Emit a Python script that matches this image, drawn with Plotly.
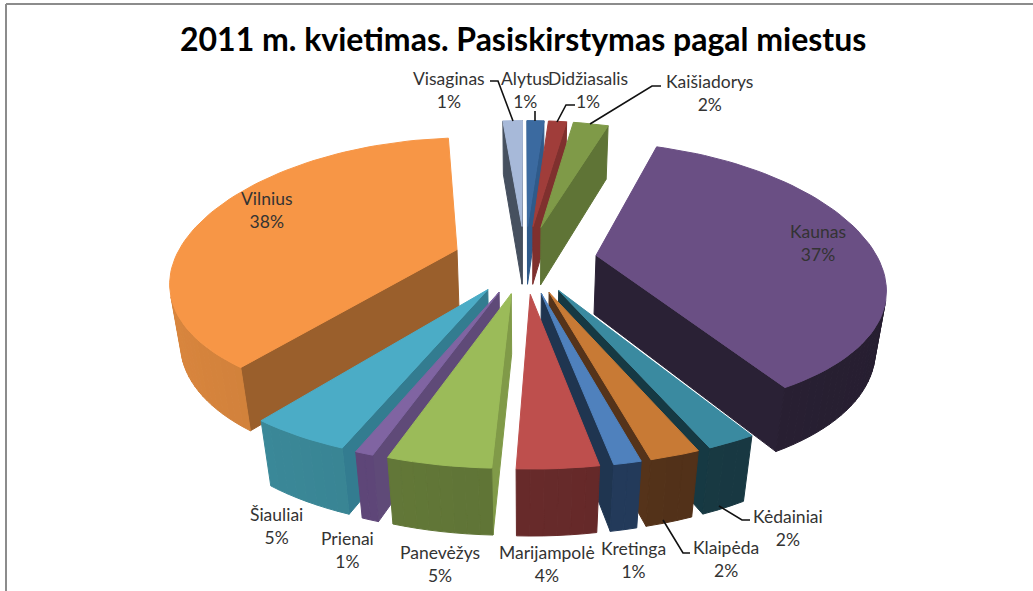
import math
import plotly.graph_objects as go

CITIES = ["Alytus", "Didžiasalis", "Kaišiadorys", "Kaunas", "Kėdainiai", "Klaipėda", "Kretinga",
          "Marijampolė", "Panevėžys", "Prienai", "Šiauliai", "Vilnius", "Visaginas"]
SHARES = [1.2, 1.3, 2.5, 36.5, 2.2, 2.2, 1.2, 3.5, 4.5, 0.8, 4.5, 38.1, 1.4]
PERCENT_LABELS = ["1%", "1%", "2%", "37%", "2%", "2%", "1%", "4%", "5%", "1%", "5%", "38%", "1%"]

TOP_COLORS = ["#3B6AA0", "#A03D3A", "#7F9A48", "#6A4F84", "#3A8AA0", "#C87A35", "#4F81BD",
              "#BE4F4D", "#9BBB59", "#8064A2", "#4BACC6", "#F79646", "#A7B9D9"]
OUTER_COLORS = ["#2C5580", "#7A2F2D", "#5F7436", "#2A2135", "#193B45", "#55331A", "#243B5C",
                "#672A2A", "#5F7436", "#5B4474", "#37808F", "#C67A38", "#3E4A5E"]
SIDE_COLORS = ["#2F5A8A", "#7F302E", "#5F7436", "#2A2135", "#163943", "#55331A", "#1F3550",
               "#672A2A", "#809A48", "#5F4A78", "#337C90", "#9A5F2C", "#46505F"]

LABEL_POS = [(525, 90), (588, 90), (709, 93), (818, 243), (788, 528), (726, 559), (633, 560),
             (547, 564), (440, 564), (347, 550), (276, 526), (266, 210), (449, 90)]
LEADERS = [[(535, 111), (535, 121)],
           [(575, 105), (566, 105), (557, 122)],
           [(661, 86), (652, 86), (590, 124)],
           [(750, 520), (742, 520), (719, 506)],
           [(690, 553), (683, 553), (663, 520)],
           [(490, 81), (498, 81), (513, 121)]]

CX, CY, A, B, H, PX, PY, Q, EXPLODE = 525, 259, 282, 133, 59, 0.21, 0.164, 0.03, 0.255
LABEL_FONT = "Lato"


def project(X, Y, z):
    sx = 1 / (1 + PX * Y + Q * z)
    sy = 1 / (1 + PY * Y)
    return CX + A * X * sx, CY - B * Y * sy + H * z * sy ** 0.55


def shade(color, f):
    rgb = [int(color[i:i + 2], 16) for i in (1, 3, 5)]
    return "rgb(%d,%d,%d)" % tuple(min(255, max(0, round(v * f))) for v in rgb)


def area(poly):
    return sum(poly[i][0] * poly[(i + 1) % len(poly)][1] - poly[(i + 1) % len(poly)][0] * poly[i][1]
               for i in range(len(poly))) / 2


def polygon(poly, color):
    xs = [p[0] for p in poly] + [poly[0][0]]
    ys = [p[1] for p in poly] + [poly[0][1]]
    return go.Scatter(x=xs, y=ys, mode="lines", fill="toself", fillcolor=color,
                      line=dict(color=color, width=1.0), hoverinfo="skip", showlegend=False)


total = sum(SHARES)
slices = []
cum = 0.0
for i, share in enumerate(SHARES):
    a0 = cum / total * 2 * math.pi
    cum += share
    a1 = cum / total * 2 * math.pi
    slices.append((i, a0, a1))

fig = go.Figure()
for i, a0, a1 in sorted(slices, key=lambda s: -math.cos((s[1] + s[2]) / 2)):
    mid = (a0 + a1) / 2
    ox, oy = EXPLODE * math.sin(mid), EXPLODE * math.cos(mid)
    n = max(2, int((a1 - a0) / math.radians(2)))
    angles = [a0 + (a1 - a0) * k / n for k in range(n + 1)]
    rim = [(ox + math.sin(t), oy + math.cos(t)) for t in angles]
    apex = (ox, oy)

    walls = []
    start = [project(*apex, 0), project(*rim[0], 0), project(*rim[0], 1), project(*apex, 1)]
    end = [project(*rim[-1], 0), project(*apex, 0), project(*apex, 1), project(*rim[-1], 1)]
    for w in (start, end):
        if area(w) < 0:
            walls.append((w, shade(SIDE_COLORS[i], 1)))
    for k in range(n):
        w = [project(*rim[k], 0), project(*rim[k + 1], 0), project(*rim[k + 1], 1), project(*rim[k], 1)]
        if area(w) < 0:
            walls.append((w, shade(OUTER_COLORS[i], 1 - 0.1 * math.sin((angles[k] + angles[k + 1]) / 2))))
    for w, c in walls:
        fig.add_trace(polygon(w, c))
    top = [project(*apex, 0)] + [project(*p, 0) for p in rim]
    fig.add_trace(polygon(top, TOP_COLORS[i]))

for pts in LEADERS:
    fig.add_trace(go.Scatter(x=[p[0] for p in pts], y=[p[1] for p in pts], mode="lines",
                             line=dict(color="#111111", width=1.6), hoverinfo="skip", showlegend=False))

annotations = [dict(x=x, y=y, xref="x", yref="y", text=f"{c}<br>{p}", showarrow=False, align="center",
                    font=dict(family=LABEL_FONT, size=17.5, color="#333333"))
               for c, p, (x, y) in zip(CITIES, PERCENT_LABELS, LABEL_POS)]
annotations.append(dict(x=523, y=38.5, xref="x", yref="y", showarrow=False,
                        text="<b>2011 m. kvietimas. Pasiskirstymas pagal miestus</b>",
                        font=dict(family=LABEL_FONT, size=32, color="#000000")))

fig.update_layout(
    width=1033, height=591, margin=dict(l=0, r=0, t=0, b=0),
    paper_bgcolor="white", plot_bgcolor="white", annotations=annotations,
    xaxis=dict(range=[0, 1033], visible=False, fixedrange=True),
    yaxis=dict(range=[591, 0], visible=False, fixedrange=True),
    shapes=[dict(type="line", x0=6, x1=1033, y0=4, y1=4, line=dict(color="#8C8C8C", width=2)),
            dict(type="line", x0=6, x1=6, y0=4, y1=591, line=dict(color="#8C8C8C", width=2))],
)
fig.write_html("out.html", config={"displayModeBar": False},
               post_script="document.body.style.margin='0';document.documentElement.style.overflow='hidden';")
